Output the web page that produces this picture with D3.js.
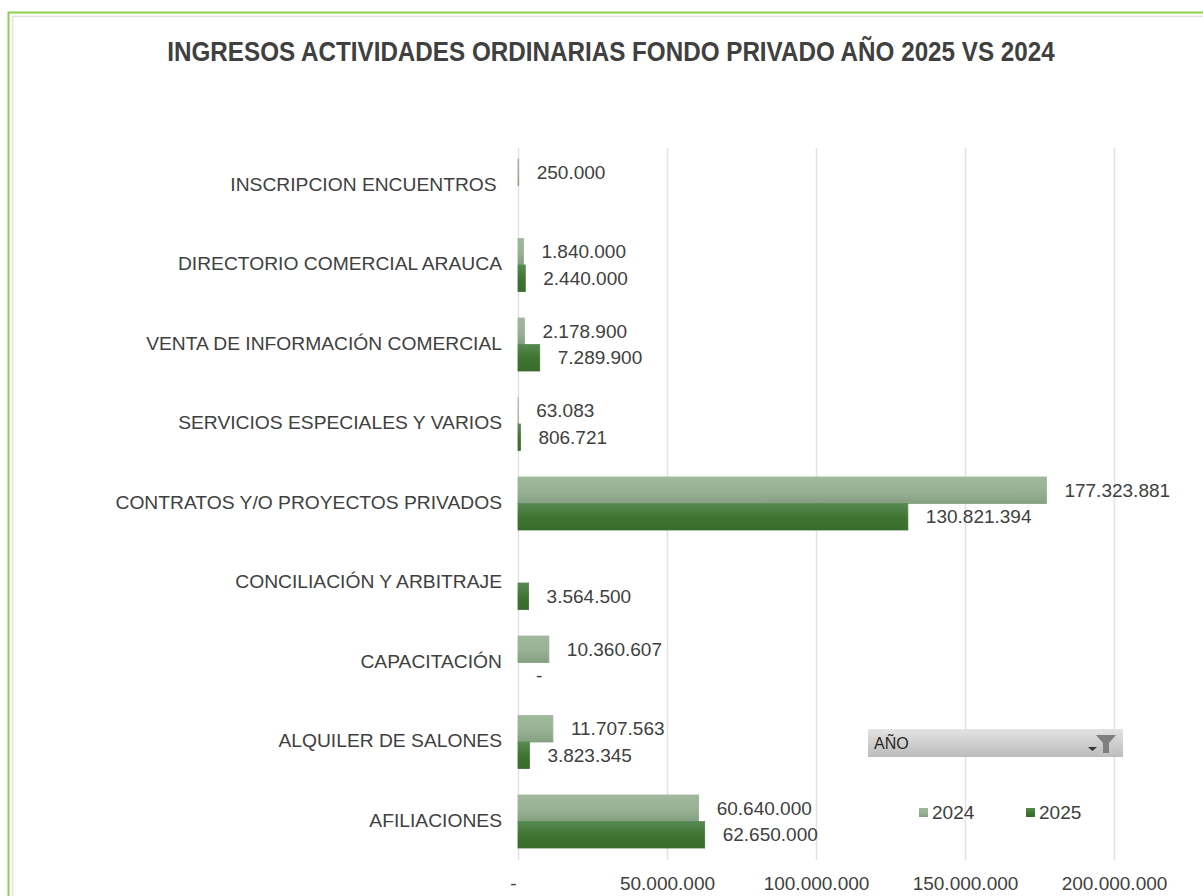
<!DOCTYPE html>
<html>
<head>
<meta charset="utf-8">
<script src="https://cdn.jsdelivr.net/npm/d3@7"></script>
<style>
  html, body { margin: 0; padding: 0; background: #fff; overflow: hidden; }
  text { font-family: "Liberation Sans", Arial, sans-serif; fill: #404040; }
</style>
</head>
<body>
<svg id="chart" width="1203" height="896"></svg>
<script>
// Chart data
const categories = [
  "INSCRIPCION ENCUENTROS\u00a0",
  "DIRECTORIO COMERCIAL ARAUCA",
  "VENTA DE INFORMACIÓN COMERCIAL",
  "SERVICIOS ESPECIALES Y VARIOS",
  "CONTRATOS Y/O PROYECTOS PRIVADOS",
  "CONCILIACIÓN Y ARBITRAJE",
  "CAPACITACIÓN",
  "ALQUILER DE SALONES",
  "AFILIACIONES"
];
const years = ["2024", "2025"];
const values2024 = [250000, 1840000, 2178900, 63083, 177323881, null, 10360607, 11707563, 60640000];
const values2025 = [null, 2440000, 7289900, 806721, 130821394, 3564500, 0, 3823345, 62650000];
const xTicks = [0, 50000000, 100000000, 150000000, 200000000];

const svg = d3.select("#chart");
const defs = svg.append("defs");

// Excel style vertical gradients for the bars
function addGradient(id, stops) {
  const g = defs.append("linearGradient").attr("id", id)
    .attr("x1", 0).attr("y1", 0).attr("x2", 0).attr("y2", 1);
  stops.forEach(s => g.append("stop").attr("offset", s[0]).attr("stop-color", s[1]));
}
addGradient("grad2024", [[0, "#a0b89c"], [0.55, "#98b094"], [1, "#84a080"]]);
addGradient("grad2025", [[0, "#578a52"], [0.55, "#3f732f"], [1, "#386c2c"]]);
addGradient("gradSlicer", [[0, "#e2e2e2"], [1, "#bcbcbc"]]);

// Outer frame, it runs off the bottom and right of the picture
svg.append("path").attr("d", "M12.5,896V16.5H1203").attr("fill", "none").attr("stroke", "#e2e2e2").attr("stroke-width", 1.5);
svg.append("path").attr("d", "M8.5,896V12.5H1203").attr("fill", "none").attr("stroke", "#8ad24e").attr("stroke-width", 2);

// Title, squeezed horizontally to the width it has in the reference
const title = svg.append("text")
  .attr("text-anchor", "middle")
  .style("font-size", "28.5px")
  .style("font-weight", "bold")
  .text("INGRESOS ACTIVIDADES ORDINARIAS FONDO PRIVADO AÑO 2025 VS 2024");
title.attr("transform", `translate(611,61) scale(${888 / title.node().getComputedTextLength()},1)`);

// Scales
const x = d3.scaleLinear().domain([0, 200000000]).range([518, 1114]);
const y = d3.scaleBand().domain(categories).range([145.75, 861.25]).paddingInner(1 / 3).paddingOuter(1 / 6);
const yInner = d3.scaleBand().domain(years).range([0, y.bandwidth()]);

const fmt = d => d3.format(",")(d).replace(/,/g, ".");

// Gridlines and x axis
const xAxis = svg.append("g")
  .attr("transform", "translate(0,860)")
  .call(d3.axisBottom(x).tickValues(xTicks).tickSize(-712).tickPadding(17)
    .tickFormat(d => d === 0 ? "-" : fmt(d)));
xAxis.select(".domain").remove();
xAxis.selectAll("line").attr("stroke", "#e2e2e2").attr("stroke-width", 1.5);
xAxis.selectAll("text").style("font-size", "19px").attr("fill", "#404040")
  .attr("dx", d => d === 0 ? -5 : 0);

// Category axis
const yAxis = svg.append("g")
  .attr("transform", "translate(518,-1)")
  .call(d3.axisLeft(y).tickSize(0).tickPadding(16));
yAxis.select(".domain").remove();
yAxis.selectAll("text").style("font-size", "19.25px");

// Bars and data labels for one series
function drawSeries(year, values) {
  const rows = categories.map((c, i) => ({ cat: c, value: values[i] })).filter(d => d.value !== null);
  const top = d => y(d.cat) + yInner(year);

  svg.selectAll(".bar" + year)
    .data(rows.filter(d => d.value > 0))
    .enter()
    .append("rect")
    .attr("class", "bar" + year)
    .attr("x", x(0))
    .attr("y", top)
    .attr("width", d => x(d.value) - x(0))
    .attr("height", yInner.bandwidth())
    .attr("fill", `url(#grad${year})`)
    .attr("stroke", `url(#grad${year})`)
    .attr("stroke-width", 0.8);

  svg.selectAll(".label" + year)
    .data(rows)
    .enter()
    .append("text")
    .attr("class", "label" + year)
    .attr("x", d => x(d.value) + 18)
    .attr("y", d => top(d) + yInner.bandwidth() / 2)
    .attr("dy", "0.35em")
    .style("font-size", "19px")
    .text(d => d.value === 0 ? "-" : fmt(d.value));
}
drawSeries("2024", values2024);
drawSeries("2025", values2025);

// Year slicer box
const slicer = svg.append("g").attr("transform", "translate(868,729)");
slicer.append("rect").attr("width", 255).attr("height", 28).attr("fill", "url(#gradSlicer)");
slicer.append("text").attr("x", 6).attr("y", 20).style("font-size", "16px").style("fill", "#262626").text("AÑO");
slicer.append("path").attr("d", "M228,6H248L241,14V24H235V14Z").attr("fill", "#7f7f7f");
slicer.append("path").attr("d", "M220,18H229L224.5,22Z").attr("fill", "#333");

// Legend
const legend = svg.selectAll(".legend")
  .data(years)
  .enter()
  .append("g")
  .attr("class", "legend")
  .attr("transform", (d, i) => `translate(${919 + i * 107},808)`);
legend.append("rect").attr("width", 9).attr("height", 9)
  .attr("fill", d => `url(#grad${d})`);
legend.append("text").attr("x", 13).attr("y", 4.5).attr("dy", "0.35em")
  .style("font-size", "19px").text(d => d);
</script>
</body>
</html>
